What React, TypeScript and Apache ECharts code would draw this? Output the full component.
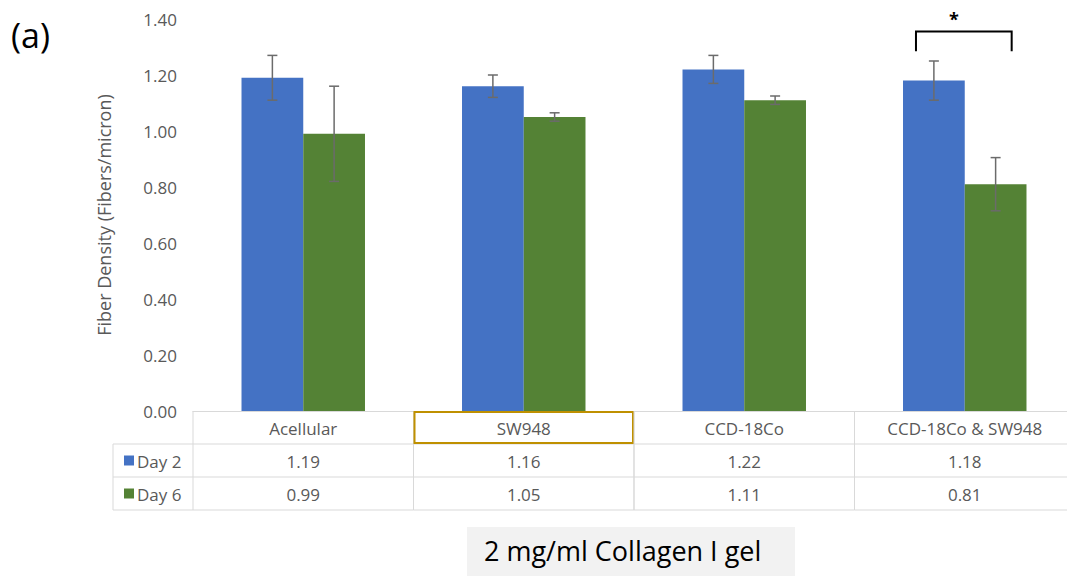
import React, { useEffect, useRef } from "react";
import * as echarts from "echarts";

const categories = ["Acellular", "SW948", "CCD-18Co", "CCD-18Co & SW948"];
const seriesNames = ["Day 2", "Day 6"];
const day2 = [1.19, 1.16, 1.22, 1.18];
const day6 = [0.99, 1.05, 1.11, 0.81];
const day2Err = [0.08, 0.04, 0.05, 0.07];
const day6Err = [0.17, 0.015, 0.015, 0.095];
const yTicks = [0, 0.2, 0.4, 0.6, 0.8, 1.0, 1.2, 1.4];
const significance = [{ category: 3, level: 1.355, legEnd: 1.285, label: "*" }];
const highlightedCategory = 1;

const BLUE = "#4472C4";
const GREEN = "#548235";
const GRAY_TEXT = "#595959";
const LINE = "#d9d9d9";
const FONT = "'Open Sans', sans-serif";
const BAR_FRAC = 0.28;

export default function App() {
  const ref = useRef<HTMLDivElement>(null);
  useEffect(() => {
    document.body.style.margin = "0";
    const chart = echarts.init(ref.current!, null, { renderer: "svg" });
    const values = [day2, day6];
    const errs = [day2Err, day6Err];
    const colors = [BLUE, GREEN];

    const errData: number[][] = [];
    for (let s = 0; s < 2; s++) {
      for (let i = 0; i < categories.length; i++) {
        errData.push([i, values[s][i], errs[s][i], s]);
      }
    }

    const option: any = {
      animation: false,
      backgroundColor: "#ffffff",
      grid: {
        left: 193,
        top: 19,
        width: 882,
        height: 392,
        containLabel: false,
        outerBoundsMode: "none",
      },
      xAxis: {
        type: "category",
        data: categories,
        axisLine: { show: true, lineStyle: { color: LINE, width: 1 } },
        axisTick: { show: false },
        axisLabel: { show: false },
        splitLine: { show: false },
      },
      yAxis: {
        type: "value",
        min: 0,
        max: 1.4,
        interval: 0.2,
        name: "Fiber Density (Fibers/micron)",
        nameLocation: "middle",
        nameGap: 80,
        nameTextStyle: { color: GRAY_TEXT, fontSize: 18, fontFamily: FONT },
        axisLine: { show: false },
        axisTick: { show: false },
        splitLine: { show: false },
        axisLabel: {
          color: GRAY_TEXT,
          fontSize: 17,
          fontFamily: FONT,
          margin: 16,
          formatter: (v: number) => {
            const t = yTicks.find((x) => Math.abs(x - v) < 1e-6);
            return (t !== undefined ? t : v).toFixed(2);
          },
        },
      },
      series: [
        {
          name: seriesNames[0],
          type: "bar",
          data: day2,
          barWidth: BAR_FRAC * 100 + "%",
          barGap: "0%",
          itemStyle: { color: BLUE },
        },
        {
          name: seriesNames[1],
          type: "bar",
          data: day6,
          barWidth: BAR_FRAC * 100 + "%",
          barGap: "0%",
          itemStyle: { color: GREEN },
        },
        {
          type: "custom",
          name: "errors",
          data: errData,
          encode: { x: 0, y: 1 },
          z: 5,
          renderItem: (params: any, api: any) => {
            const i = api.value(0);
            const v = api.value(1);
            const e = api.value(2);
            const s = api.value(3);
            const bw = api.size([1, 0])[0] * BAR_FRAC;
            const cx = api.coord([i, v])[0] + (s === 0 ? -bw / 2 : bw / 2);
            const yt = api.coord([i, v + e])[1];
            const yb = api.coord([i, v - e])[1];
            const cap = 5;
            const style = { stroke: "#6b6b6b", lineWidth: 1.5 };
            return {
              type: "group",
              children: [
                { type: "line", shape: { x1: cx, y1: yt, x2: cx, y2: yb }, style },
                { type: "line", shape: { x1: cx - cap, y1: yt, x2: cx + cap, y2: yt }, style },
                { type: "line", shape: { x1: cx - cap, y1: yb, x2: cx + cap, y2: yb }, style },
              ],
            };
          },
        },
        {
          type: "custom",
          name: "significance",
          data: significance.map((d) => [d.category, d.level, d.legEnd]),
          encode: { x: 0, y: 1 },
          z: 5,
          clip: false,
          renderItem: (params: any, api: any) => {
            const i = api.value(0);
            const lvl = api.value(1);
            const leg = api.value(2);
            const sig = significance[params.dataIndex];
            const bw = api.size([1, 0])[0] * BAR_FRAC;
            const c = api.coord([i, lvl]);
            const yLeg = api.coord([i, leg])[1];
            const x1 = c[0] - bw * 0.79;
            const x2 = c[0] + bw * 0.76;
            const style = { stroke: "#000000", lineWidth: 2, fill: "none" };
            return {
              type: "group",
              children: [
                {
                  type: "polyline",
                  shape: { points: [[x1, yLeg], [x1, c[1]], [x2, c[1]], [x2, yLeg]] },
                  style,
                },
                {
                  type: "text",
                  style: {
                    text: sig.label,
                    x: (x1 + x2) / 2 - 10,
                    y: c[1] - 13,
                    fill: "#000",
                    font: "bold 18px " + FONT,
                    align: "center",
                    verticalAlign: "middle",
                  },
                },
              ],
            };
          },
        },
        {
          type: "custom",
          name: "table",
          data: categories.map((_, i) => [i, 0]),
          encode: { x: 0, y: 1 },
          z: 6,
          clip: false,
          renderItem: (params: any, api: any) => {
            const i = api.value(0);
            const w = api.size([1, 0])[0];
            const base = api.coord([i, 0]);
            const cx = base[0];
            const y0 = base[1];
            const rowH = 33;
            const left = cx - w / 2;
            const right = cx + w / 2;
            const lineStyle = { stroke: LINE, lineWidth: 1 };
            const txt = (text: string, x: number, y: number, align = "center") => ({
              type: "text",
              style: {
                text,
                x,
                y,
                fill: GRAY_TEXT,
                font: "17px " + FONT,
                align,
                verticalAlign: "middle",
              },
            });
            const children: any[] = [
              { type: "line", shape: { x1: left, y1: y0, x2: left, y2: y0 + rowH * 3 }, style: lineStyle },
              { type: "line", shape: { x1: right, y1: y0, x2: right, y2: y0 + rowH * 3 }, style: lineStyle },
              { type: "line", shape: { x1: left, y1: y0 + rowH, x2: right, y2: y0 + rowH }, style: lineStyle },
              { type: "line", shape: { x1: left, y1: y0 + rowH * 2, x2: right, y2: y0 + rowH * 2 }, style: lineStyle },
              { type: "line", shape: { x1: left, y1: y0 + rowH * 3, x2: right, y2: y0 + rowH * 3 }, style: lineStyle },
              txt(categories[i], cx, y0 + rowH / 2 + 1),
              txt(day2[i].toFixed(2), cx, y0 + rowH * 1.5 + 1),
              txt(day6[i].toFixed(2), cx, y0 + rowH * 2.5 + 1),
            ];
            if (i === highlightedCategory) {
              children.push({
                type: "rect",
                shape: { x: left + 1, y: y0 + 1, width: w - 2, height: rowH - 2 },
                style: { stroke: "#BF9000", lineWidth: 2, fill: "none" },
              });
            }
            if (i === 0) {
              const lx = left - 80;
              children.push(
                { type: "line", shape: { x1: lx, y1: y0 + rowH, x2: left, y2: y0 + rowH }, style: lineStyle },
                { type: "line", shape: { x1: lx, y1: y0 + rowH * 2, x2: left, y2: y0 + rowH * 2 }, style: lineStyle },
                { type: "line", shape: { x1: lx, y1: y0 + rowH * 3, x2: left, y2: y0 + rowH * 3 }, style: lineStyle },
                { type: "line", shape: { x1: lx, y1: y0 + rowH, x2: lx, y2: y0 + rowH * 3 }, style: lineStyle }
              );
              [0, 1].forEach((s) => {
                const yc = y0 + rowH * (1.5 + s);
                children.push(
                  {
                    type: "rect",
                    shape: { x: lx + 11, y: yc - 5, width: 10, height: 10 },
                    style: { fill: colors[s] },
                  },
                  txt(seriesNames[s], lx + 24, yc + 1, "left")
                );
              });
            }
            return { type: "group", children };
          },
        },
      ],
      graphic: [
        {
          type: "text",
          left: 11,
          top: 18,
          style: { text: "(a)", fill: "#000", font: "34px " + FONT },
        },
        {
          type: "rect",
          left: 467,
          top: 527,
          shape: { width: 328, height: 49 },
          style: { fill: "#f2f2f2" },
          z: 0,
        },
        {
          type: "text",
          left: 484,
          top: 537,
          style: { text: "2 mg/ml Collagen I gel", fill: "#000", font: "27px " + FONT },
          z: 1,
        },
      ],
    };
    chart.setOption(option);
    return () => chart.dispose();
  }, []);
  return (
    <div
      ref={ref}
      style={{ position: "fixed", left: 0, top: 0, width: 1067, height: 576 }}
    />
  );
}
